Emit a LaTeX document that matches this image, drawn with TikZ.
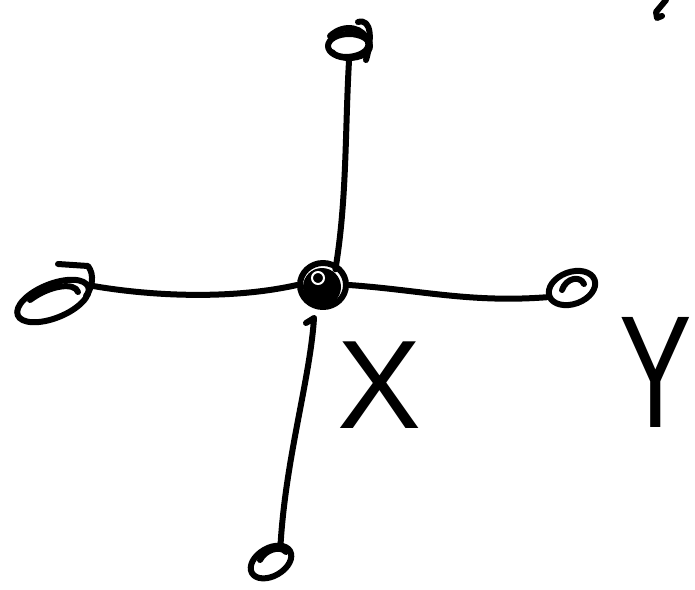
\documentclass[tikz,border=0pt]{standalone}
\usepackage{fontspec}
\setmainfont{Liberation Sans}
\usetikzlibrary{shapes.geometric}
\begin{document}
\begin{tikzpicture}[x=1pt,y=-1pt,
  ink/.style={line width=6pt,line cap=round,line join=round,black},
  blob/.style={ellipse,draw,ink,inner sep=0pt},
  letter/.style={inner sep=0pt,anchor=center}]
\useasboundingbox[fill=white] (0,0) rectangle (695,589);
\clip (0,0) rectangle (695,589);
% nodes
\node[blob,minimum width=46pt,minimum height=44pt] (c) at (323,285) {};
\fill (322,287) circle (19pt);
\draw[line width=2pt,white] (318,278) circle (6pt);
\node[blob,minimum width=42pt,minimum height=24pt] (t) at (349,46) {};
\draw[ink] (330,36) .. controls (345,22) and (365,28) .. (368,42) .. controls (372,56) and (340,62) .. (332,52);
\draw[ink] (358,22) .. controls (372,18) and (372,40) .. (366,60);
\node[blob,minimum width=76pt,minimum height=34pt,rotate=22] (l) at (53,301) {};
\draw[ink] (30,300) .. controls (50,285) and (75,282) .. (78,292);
\draw[ink] (58,264) -- (88,266) .. controls (95,275) and (92,288) .. (86,296);
\node[blob,minimum width=48pt,minimum height=32pt,rotate=20] (r) at (572,288) {};
\draw[ink] (562,290) .. controls (566,278) and (580,275) .. (584,284);
\node[blob,minimum width=44pt,minimum height=28pt,rotate=30] (b) at (271,562) {};
\draw[ink] (260,560) .. controls (265,550) and (280,545) .. (286,552);
% connectors
\draw[ink] (c.north east) ++(-6,2) coordinate (cn)
  (cn) .. controls (347,200) and (345,130) .. (t.south) ;
\draw[ink] (l.east) .. controls (150,296) and (230,300) .. (c.west);
\draw[ink] (c.east) .. controls (420,290) and (470,303) .. (r.west);
\coordinate (bs) at (314,318);
\draw[ink] (bs) -- (306,323) (bs) .. controls (310,380) and (285,460) .. ([yshift=-6pt]b.north east);
% labels
\node[letter,font=\fontsize{126}{126}\selectfont] (x) at (380,385) {X};
\node[letter,xscale=0.68,font=\fontsize{160}{160}\selectfont] (y) at (656,372) {Y};
% top-right mark
\coordinate (m1) at (666,0);
\draw[ink] (m1) -- (656,12) -- (657,18) -- (662,16);
\end{tikzpicture}
\end{document}
